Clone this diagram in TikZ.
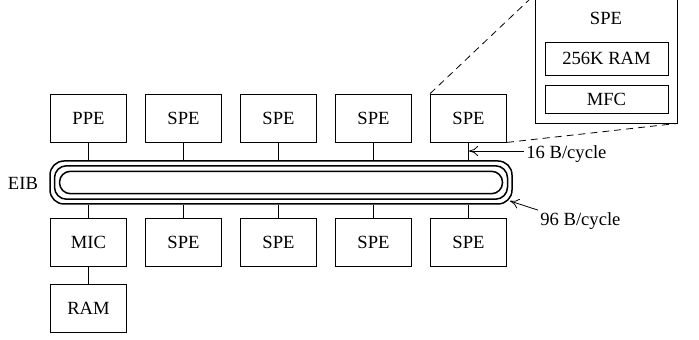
\documentclass[tikz,border=0pt]{standalone}
\usepackage{fontspec}
\setmainfont{Liberation Serif}
\usepackage{tikz}
\usetikzlibrary{arrows.meta}

\tikzset{
  unit/.style={draw,inner sep=0pt,minimum width=38pt,minimum height=24pt},
  ring/.style={draw,line width=0.75pt,inner sep=0pt},
  sub/.style={draw,inner sep=0pt,minimum width=61.5pt},
  bwarrow/.style={-{To[length=4.5pt,width=5pt]}}
}

\begin{document}
\begin{tikzpicture}[x=0.5pt,y=-0.5pt,font=\fontsize{9.3}{11}\selectfont]
  \useasboundingbox (0,0) rectangle (699,340);
  \clip (0,0) rectangle (699,340);
  % element interconnect bus
  \node[ring,rounded corners=7pt,minimum width=231pt,minimum height=21.5pt] (eib) at (281,182.5) {};
  \node[ring,rounded corners=6pt,minimum width=226.5pt,minimum height=16.7pt] (eibm) at (281,182.5) {};
  \node[ring,rounded corners=5.5pt,minimum width=221.5pt,minimum height=11.2pt] (eibi) at (281,182.5) {};
  \node[anchor=east] (eiblbl) at (45,183) {EIB};
  % top row
  \node[unit] (ppe) at (88.5,118) {PPE};
  \node[unit] (spe1) at (183.5,118) {SPE};
  \node[unit] (spe2) at (278.5,118) {SPE};
  \node[unit] (spe3) at (373.5,118) {SPE};
  \node[unit] (spe4) at (468.5,118) {SPE};
  \draw (ppe) -- (ppe |- eib.north);
  \draw (spe1) -- (spe1 |- eib.north);
  \draw (spe2) -- (spe2 |- eib.north);
  \draw (spe3) -- (spe3 |- eib.north);
  \draw (spe4) -- (spe4 |- eib.north);
  % bottom row
  \node[unit] (mic) at (88.5,242) {MIC};
  \node[unit] (spe5) at (183.5,242) {SPE};
  \node[unit] (spe6) at (278.5,242) {SPE};
  \node[unit] (spe7) at (373.5,242) {SPE};
  \node[unit] (spe8) at (468.5,242) {SPE};
  \draw (mic) -- (mic |- eib.south);
  \draw (spe5) -- (spe5 |- eib.south);
  \draw (spe6) -- (spe6 |- eib.south);
  \draw (spe7) -- (spe7 |- eib.south);
  \draw (spe8) -- (spe8 |- eib.south);
  \node[unit] (ram) at (88.5,308) {RAM};
  \draw (mic) -- (ram);
  % bandwidth labels
  \node[anchor=west,inner sep=1pt] (bw16) at (524,154) {16 B/cycle};
  \coordinate (t16) at (469,151);
  \draw[bwarrow] (bw16.west |- t16) -- (t16);
  \node[anchor=west,inner sep=1pt] (bw96) at (538,221) {96 B/cycle};
  \coordinate (t96) at (510,201);
  \draw[bwarrow] (bw96.north west) -- (t96);
  % enlarged SPE
  \node[draw,inner sep=0pt,minimum width=71pt,minimum height=64pt] (spebig) at (606,59) {};
  \node (spelbl) at (606,18) {SPE};
  \node[sub,minimum height=16.5pt] (lsram) at (606.5,58.8) {256K RAM};
  \node[sub,minimum height=14pt] (mfc) at (606.5,99) {MFC};
  \draw[dash pattern=on 3.5pt off 2.5pt] (spe4.north west) -- (spebig.north west);
  \draw[dash pattern=on 3.5pt off 2.5pt] (spe4.south east) -- (spebig.south east);
\end{tikzpicture}
\end{document}
